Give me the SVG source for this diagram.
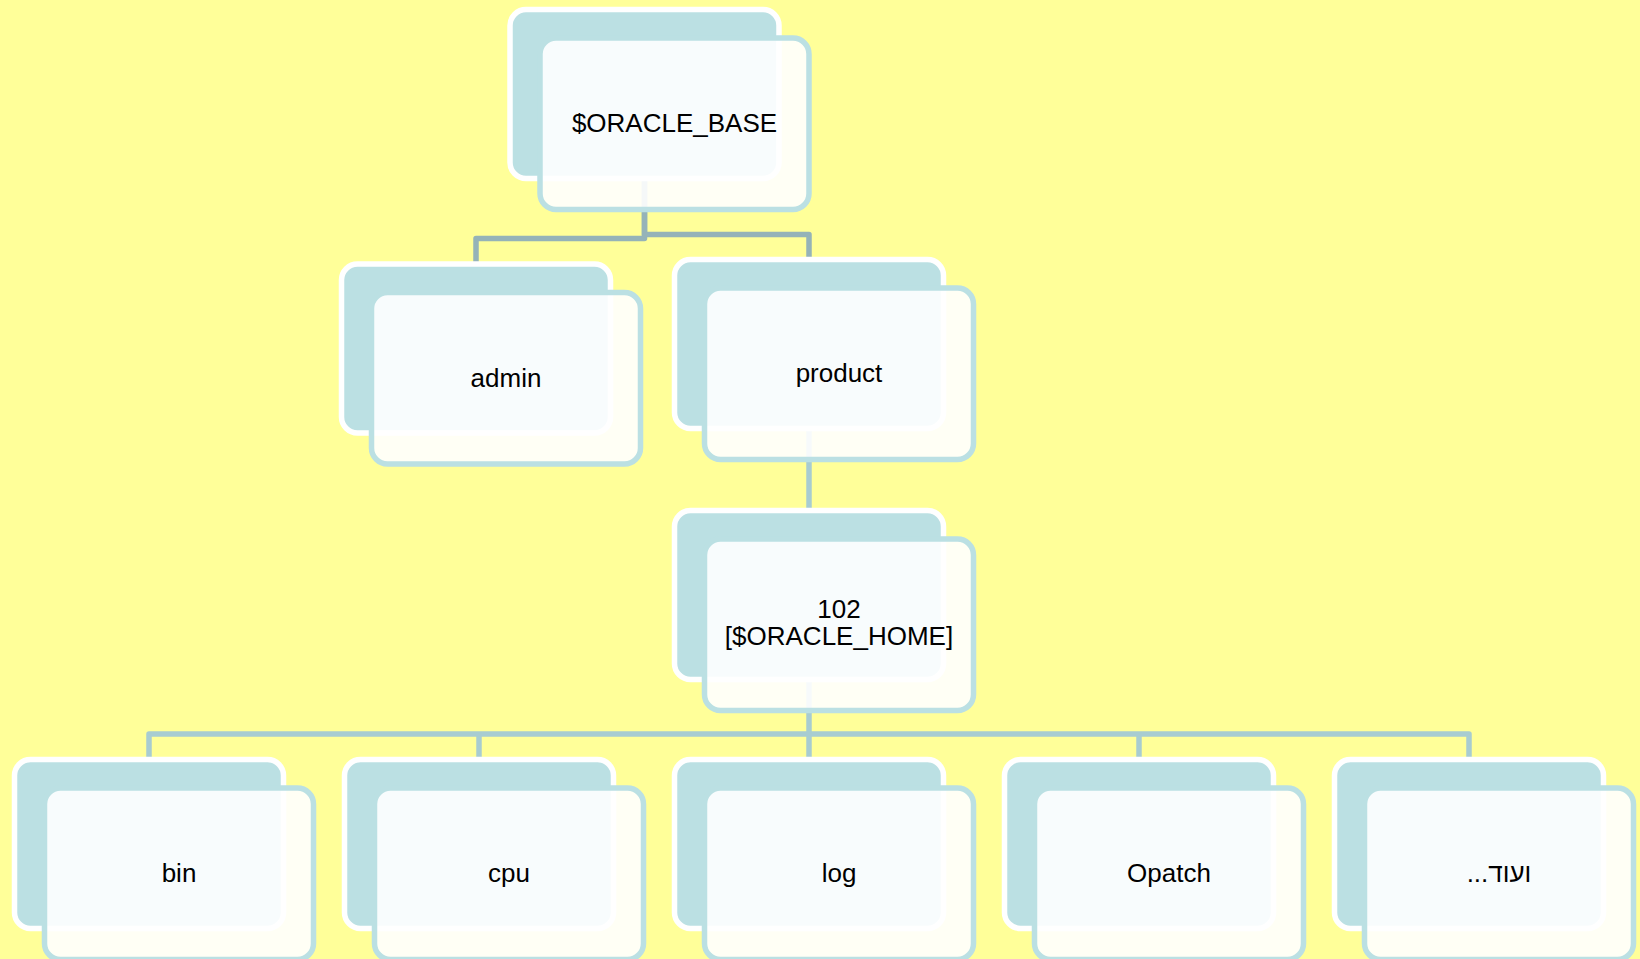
<svg xmlns="http://www.w3.org/2000/svg" width="1640" height="959" viewBox="0 0 1640 959">
<style>
.back{fill:#bbe0e3;stroke:#ffffff;stroke-width:5.5}
.front{fill:#ffffff;fill-opacity:0.9;stroke:#bbe0e3;stroke-width:5.5}
.lbl{font-family:"Liberation Sans",Arial,"DejaVu Sans",sans-serif;font-size:26px;fill:#000000;text-anchor:middle}
.c1{fill:none;stroke:#95b3b8;stroke-width:5.5;stroke-linejoin:round}
.c2{fill:none;stroke:#a8ccd1;stroke-width:5.5;stroke-linejoin:round}
</style>
<defs>
<g id="card">
<rect class="back" x="0" y="0" width="269" height="169" rx="16"/>
<rect class="front" x="30" y="28.5" width="269" height="171.5" rx="16"/>
</g>
</defs>
<rect x="0" y="0" width="1640" height="959" fill="#ffff99"/>
<g id="connectors">
<path class="c1" d="M644.5,178 V238.5 H476 V264"/>
<path class="c1" d="M644.5,178 V234.5 H809 V259.5"/>
<path class="c2" d="M809,429 V510.5"/>
<path class="c2" d="M149,759.5 V734 H1469 V759.5"/>
<path class="c2" d="M479,734 V759.5"/>
<path class="c2" d="M809,680 V759.5"/>
<path class="c2" d="M1139,734 V759.5"/>
</g>
<g id="oracle_base"><use href="#card" x="510" y="9.5"/><text class="lbl" x="674.5" y="132">$ORACLE_BASE</text></g>
<g id="admin"><use href="#card" x="341.5" y="264"/><text class="lbl" x="506" y="386.5">admin</text></g>
<g id="product"><use href="#card" x="674.5" y="259.5"/><text class="lbl" x="839" y="382">product</text></g>
<g id="oracle_home"><use href="#card" x="674.5" y="510.5"/><text class="lbl" x="839" y="618">102</text><text class="lbl" x="839" y="645">[$ORACLE_HOME]</text></g>
<g id="bin"><use href="#card" x="14.5" y="759.5"/><text class="lbl" x="179" y="882">bin</text></g>
<g id="cpu"><use href="#card" x="344.5" y="759.5"/><text class="lbl" x="509" y="882">cpu</text></g>
<g id="log"><use href="#card" x="674.5" y="759.5"/><text class="lbl" x="839" y="882">log</text></g>
<g id="opatch"><use href="#card" x="1004.5" y="759.5"/><text class="lbl" x="1169" y="882">Opatch</text></g>
<g id="more"><use href="#card" x="1334.5" y="759.5"/><text class="lbl" x="1499" y="882">ועוד...&#x200F;</text></g>
</svg>
